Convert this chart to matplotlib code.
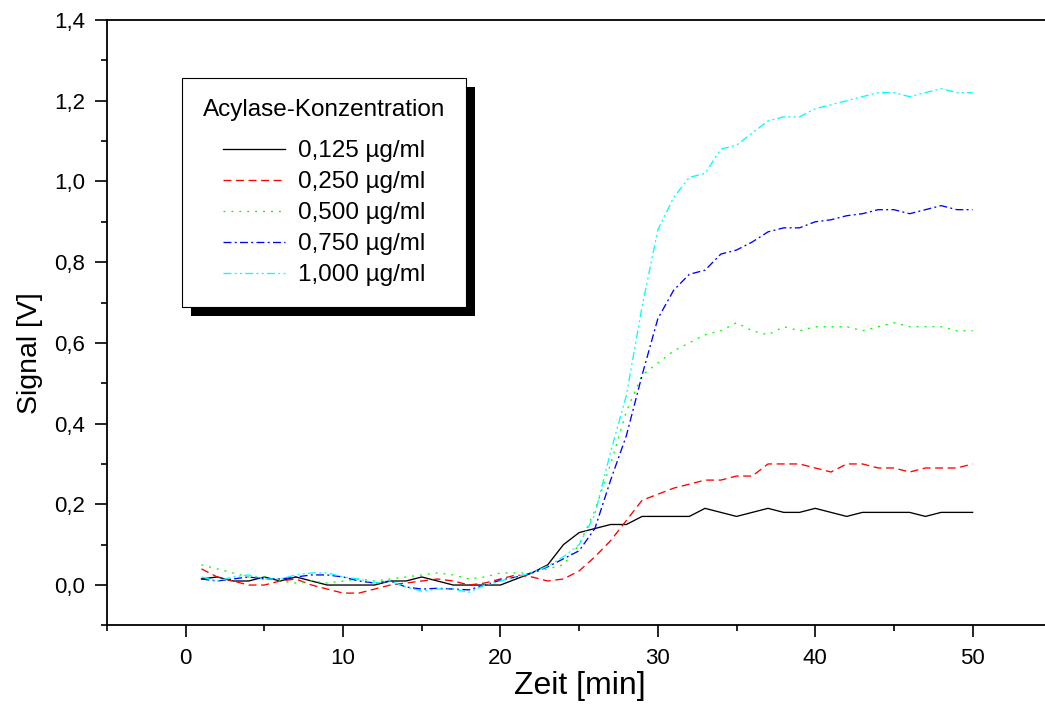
import numpy as np
import matplotlib
matplotlib.use('Agg')
import matplotlib.pyplot as plt
from matplotlib.ticker import MultipleLocator, FuncFormatter
from matplotlib.patches import Rectangle
from matplotlib.transforms import IdentityTransform

plt.rcParams['font.family'] = ['Liberation Sans', 'DejaVu Sans']

# Messzeitpunkte [min]
zeit = np.arange(1, 51)

# Signal [V] je Acylase-Konzentration
sig_0125 = [0.015, 0.02, 0.01, 0.01, 0.02, 0.01, 0.02, 0.01, 0.0, 0.0,
            0.0, 0.0, 0.01, 0.01, 0.02, 0.01, 0.0, 0.0, 0.0, 0.0,
            0.015, 0.03, 0.05, 0.10, 0.13, 0.14, 0.15, 0.15, 0.17, 0.17,
            0.17, 0.17, 0.19, 0.18, 0.17, 0.18, 0.19, 0.18, 0.18, 0.19,
            0.18, 0.17, 0.18, 0.18, 0.18, 0.18, 0.17, 0.18, 0.18, 0.18]
sig_0250 = [0.04, 0.02, 0.01, 0.0, 0.0, 0.01, 0.015, 0.0, -0.01, -0.02,
            -0.02, -0.01, 0.0, 0.005, 0.01, 0.015, 0.01, 0.0, 0.005, 0.015,
            0.025, 0.02, 0.01, 0.015, 0.035, 0.07, 0.11, 0.16, 0.21, 0.225,
            0.24, 0.25, 0.26, 0.26, 0.27, 0.27, 0.30, 0.30, 0.30, 0.29,
            0.28, 0.30, 0.30, 0.29, 0.29, 0.28, 0.29, 0.29, 0.29, 0.30]
sig_0500 = [0.05, 0.04, 0.03, 0.02, 0.02, 0.01, 0.005, 0.01, 0.005, 0.01,
            0.015, 0.01, 0.015, 0.02, 0.025, 0.03, 0.025, 0.015, 0.02, 0.03,
            0.03, 0.03, 0.04, 0.05, 0.10, 0.185, 0.30, 0.43, 0.52, 0.55,
            0.58, 0.60, 0.62, 0.63, 0.65, 0.63, 0.62, 0.64, 0.63, 0.64,
            0.64, 0.64, 0.63, 0.64, 0.65, 0.64, 0.64, 0.64, 0.63, 0.63]
sig_0750 = [0.015, 0.01, 0.015, 0.02, 0.015, 0.015, 0.02, 0.025, 0.025, 0.02,
            0.01, 0.005, 0.01, -0.005, -0.01, -0.008, -0.01, -0.012, 0.0, 0.012,
            0.02, 0.03, 0.045, 0.065, 0.085, 0.14, 0.26, 0.37, 0.52, 0.66,
            0.73, 0.77, 0.78, 0.82, 0.83, 0.85, 0.875, 0.885, 0.885, 0.90,
            0.905, 0.915, 0.92, 0.93, 0.93, 0.92, 0.93, 0.94, 0.93, 0.93]
sig_1000 = [0.02, 0.01, 0.02, 0.025, 0.015, 0.015, 0.025, 0.03, 0.03, 0.02,
            0.015, 0.005, 0.01, -0.005, -0.015, -0.01, -0.01, -0.018, 0.0, 0.01,
            0.02, 0.03, 0.047, 0.07, 0.10, 0.175, 0.33, 0.47, 0.69, 0.88,
            0.96, 1.01, 1.02, 1.08, 1.09, 1.12, 1.15, 1.16, 1.16, 1.18,
            1.19, 1.20, 1.21, 1.22, 1.22, 1.21, 1.22, 1.23, 1.22, 1.22]

labels = ['0,125 µg/ml', '0,250 µg/ml', '0,500 µg/ml', '0,750 µg/ml', '1,000 µg/ml']
colors = ['black', '#ff0000', '#00ff00', '#0000ff', '#00ffff']
styles = ['-', (0, (6, 3.5)), (0, (1.5, 4.5)), (0, (6, 2.5, 1.5, 2.5)),
          (0, (6, 2.5, 1.5, 2.5, 1.5, 2.5))]
series = [sig_0125, sig_0250, sig_0500, sig_0750, sig_1000]

fig = plt.figure(figsize=(10.45, 7.11), dpi=100)
ax = fig.add_axes([0.1024, 0.1204, 0.8976, 0.8515])

for y, lab, c, ls in zip(series, labels, colors, styles):
    ax.plot(zeit, y, color=c, linestyle=ls, linewidth=0.95, label=lab)

ax.set_xlim(-5, 54.6)
ax.set_ylim(-0.1, 1.4)
ax.xaxis.set_major_locator(MultipleLocator(10))
ax.xaxis.set_minor_locator(MultipleLocator(5))
ax.yaxis.set_major_locator(MultipleLocator(0.2))
ax.yaxis.set_minor_locator(MultipleLocator(0.1))
ax.yaxis.set_major_formatter(FuncFormatter(lambda v, p: f'{v:.1f}'.replace('.', ',')))

ax.spines['right'].set_visible(False)
for s in ['left', 'bottom', 'top']:
    ax.spines[s].set_linewidth(1.3)
ax.tick_params(which='major', direction='out', length=8.5, width=1.2,
               labelsize=16, pad=7, top=False, right=False)
ax.tick_params(which='minor', direction='out', length=4.5, width=1.2,
               top=False, right=False)
ax.tick_params(axis='x', which='major', pad=8)

ax.set_xlabel('Zeit [min]', fontsize=23, labelpad=1)
ax.set_ylabel('Signal [V]', fontsize=20.5, labelpad=8)
ax.yaxis.label.set_y(0.45)
ax.xaxis.label.set_x(0.504)

leg = ax.legend(title='Acylase-Konzentration', loc='upper left',
                bbox_to_anchor=(0.080, 0.904), borderaxespad=0,
                fontsize=17.5, title_fontsize=17.5, fancybox=False,
                edgecolor='black', framealpha=1, handlelength=2.55,
                handletextpad=0.53, labelspacing=0.37, borderpad=0.86)
leg.get_frame().set_linewidth(0.8)
# etwas mehr Abstand zwischen Titel und Einträgen
leg._legend_box.sep = 13.7

# schwarzer Schatten unter der Legende
fig.canvas.draw()
bb = leg.get_window_extent()
shadow = Rectangle((bb.x0 + 9, bb.y0 - 9), bb.width, bb.height,
                   transform=IdentityTransform(), facecolor='black',
                   edgecolor='none', zorder=leg.get_zorder() - 0.1, clip_on=False)
ax.add_artist(shadow)

fig.savefig('out.png', dpi=100)
